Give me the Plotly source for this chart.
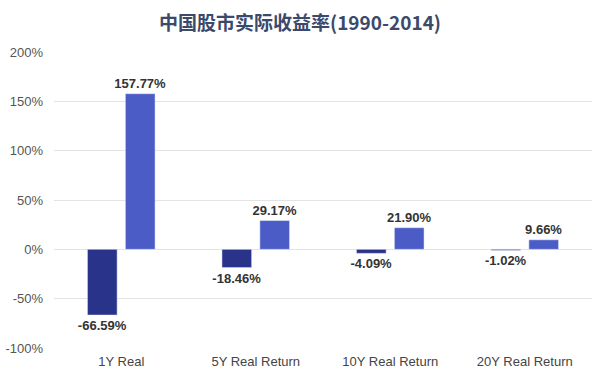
import plotly.graph_objects as go

categories = ["1Y Real", "5Y Real Return", "10Y Real Return", "20Y Real Return"]
series_a = [-66.59, -18.46, -4.09, -1.02]
series_b = [157.77, 29.17, 21.90, 9.66]
tick_vals = [-100, -50, 0, 50, 100, 150, 200]
tick_text = ["-100%", "-50%", "0%", "50%", "100%", "150%", "200%"]
title_text = "中国股市实际收益率(1990-2014)"

label_font = dict(family="Liberation Sans, Arial", size=13, color="#333333")

fig = go.Figure()
fig.add_trace(go.Bar(
    x=categories, y=series_a, marker_color="#2A338A",
    texttemplate="<b>%{y:.2f}%</b>", textposition="outside",
    constraintext="none",
    textfont=label_font, cliponaxis=False, showlegend=False,
))
fig.add_trace(go.Bar(
    x=categories, y=series_b, marker_color="#4B5CC7",
    texttemplate="<b>%{y:.2f}%</b>", textposition="outside",
    constraintext="none",
    textfont=label_font, cliponaxis=False, showlegend=False,
))

fig.update_layout(
    width=600, height=369,
    margin=dict(l=54, r=8, t=52, b=21, autoexpand=False),
    paper_bgcolor="white", plot_bgcolor="white",
    barmode="group", bargap=0.436, bargroupgap=0.218,
    title=dict(text="<b>" + title_text + "</b>", x=0.5, xanchor="center",
               y=0.937, yanchor="middle",
               font=dict(family="Noto Sans CJK SC", size=19, color="#3B4A6B")),
    xaxis=dict(showgrid=False, zeroline=False, showline=False, automargin=False,
               tickfont=dict(family="Liberation Sans, Arial", size=13, color="#444444"),
               ticklabelstandoff=4),
    yaxis=dict(range=[-100, 200], tickvals=tick_vals, ticktext=tick_text,
               showgrid=True, gridcolor="#E3E3E3", gridwidth=1, automargin=False,
               zeroline=True, zerolinecolor="#E3E3E3", zerolinewidth=1,
               showline=False,
               tickfont=dict(family="Liberation Sans, Arial", size=13, color="#555555"),
               ticklabelstandoff=10),
)

fig.write_html("out.html", config={"displayModeBar": False},
               post_script="document.body.style.margin='0';")
